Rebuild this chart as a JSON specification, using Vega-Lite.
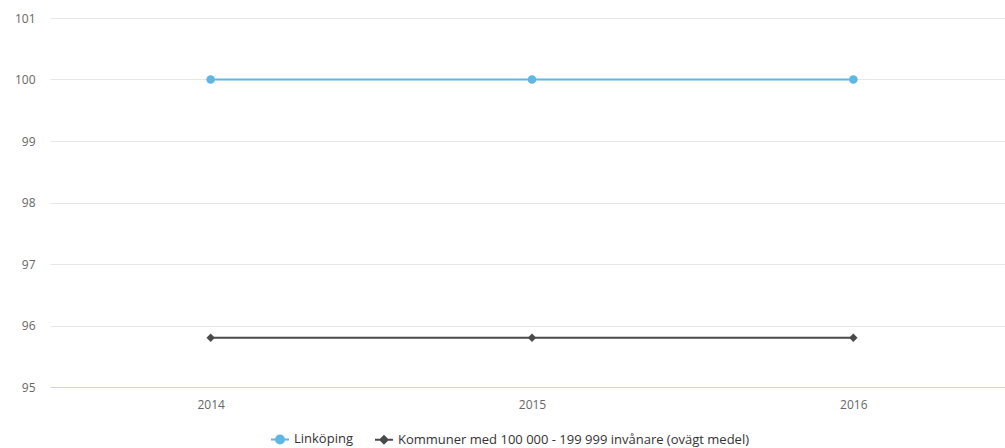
{
  "$schema": "https://vega.github.io/schema/vega-lite/v6.json",
  "autosize": "none",
  "padding": {"left": 50, "top": 18, "right": 0, "bottom": 61},
  "width": 964,
  "height": 369,
  "background": "white",
  "config": {
    "font": "Open Sans",
    "view": {"stroke": null},
    "axis": {"labelFont": "Open Sans", "labelFontSize": 12, "labelColor": "#666666", "title": null}
  },
  "data": {
    "values": [
      {"year": "2014", "series": "Linköping", "value": 100},
      {"year": "2015", "series": "Linköping", "value": 100},
      {"year": "2016", "series": "Linköping", "value": 100},
      {"year": "2014", "series": "Kommuner med 100 000 - 199 999 invånare (ovägt medel)", "value": 95.8},
      {"year": "2015", "series": "Kommuner med 100 000 - 199 999 invånare (ovägt medel)", "value": 95.8},
      {"year": "2016", "series": "Kommuner med 100 000 - 199 999 invånare (ovägt medel)", "value": 95.8}
    ]
  },
  "encoding": {
    "x": {
      "field": "year", "type": "ordinal",
      "scale": {"type": "point", "padding": 0.5},
      "axis": {"labelAngle": 0, "domainColor": "#ccd6eb", "domainWidth": 1, "ticks": false, "labelPadding": 12, "grid": false}
    },
    "y": {
      "field": "value", "type": "quantitative",
      "scale": {"domain": [95, 101], "nice": false, "zero": false},
      "axis": {"values": [95, 96, 97, 98, 99, 100, 101], "grid": true, "gridColor": "#e6e6e6", "domain": false, "ticks": false, "labelPadding": 15}
    }
  },
  "layer": [
    {
      "mark": {"type": "line", "strokeWidth": 2},
      "encoding": {
        "color": {
          "field": "series", "type": "nominal",
          "scale": {"domain": ["Linköping", "Kommuner med 100 000 - 199 999 invånare (ovägt medel)"], "range": ["#5fb7e5", "#4a4a4a"]},
          "legend": {
            "title": null,
            "orient": "none",
            "legendX": 220,
            "legendY": 411,
            "direction": "horizontal",
            "columnPadding": 18,
            "labelFont": "Open Sans",
            "labelFontSize": 13,
            "labelColor": "#333333",
            "labelLimit": 600,
            "symbolSize": 324,
            "encode": {
              "symbols": {
                "update": {
                  "fill": {"scale": "color", "field": "value"},
                  "stroke": {"scale": "color", "field": "value"},
                  "strokeWidth": {"value": 2},
                  "shape": {"signal": "datum.value === 'Linköping' ? 'M-1,0L1,0M-0.45,0A0.45,0.45,0,1,1,0.45,0A0.45,0.45,0,1,1,-0.45,0Z' : 'M-1,0L1,0M-0.4,0L0,-0.4L0.4,0L0,0.4Z'"}
                }
              }
            }
          }
        }
      }
    },
    {
      "transform": [{"filter": "datum.series === 'Linköping'"}],
      "mark": {"type": "point", "filled": true, "opacity": 1, "size": 75, "shape": "circle", "color": "#5fb7e5"}
    },
    {
      "transform": [{"filter": "datum.series !== 'Linköping'"}],
      "mark": {"type": "point", "filled": true, "opacity": 1, "size": 70, "shape": "diamond", "color": "#4a4a4a"}
    }
  ]
}
